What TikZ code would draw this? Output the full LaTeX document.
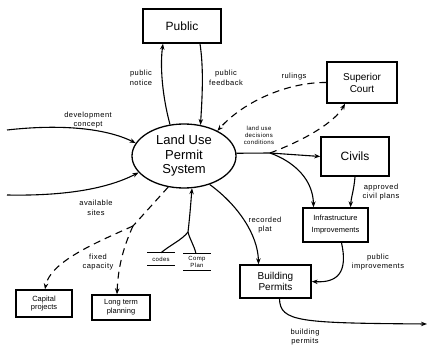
\documentclass[tikz,border=0pt]{standalone}
\usepackage{fontspec}
\setmainfont{Liberation Sans}
\newfontfamily\lblfont[LetterSpace=6]{Liberation Sans}
\usetikzlibrary{shapes.geometric,arrows.meta,calc}
\begin{document}
\begin{tikzpicture}[x=1pt,y=-1pt,
  box/.style={draw,line width=1.4pt,inner sep=1pt,align=center},
  proc/.style={draw,ellipse,line width=1.3pt,minimum width=104pt,minimum height=64pt,inner sep=0pt,align=center,font=\fontsize{13}{14.5}\selectfont},
  store/.style={inner sep=0pt,minimum width=27pt,minimum height=12pt,align=center,font=\lblfont\fontsize{6}{6.5}\selectfont},
  lbl/.style={align=center,inner sep=0pt,font=\lblfont\fontsize{7.5}{9.5}\selectfont},
  flow/.style={line width=1.1pt,-{Stealth[length=6pt,width=4.5pt]}},
  plain/.style={line width=1.1pt},
  dflow/.style={flow,dash pattern=on 7pt off 5pt},
  dplain/.style={plain,dash pattern=on 7pt off 5pt}]
\useasboundingbox (0,0) rectangle (428,350);
\fill[white] (0,0) rectangle (428,350);

% nodes
\node[proc] (LUPS) at (184,156) {Land Use\\Permit\\System};
\node[box,minimum width=78pt,minimum height=34pt,font=\fontsize{12}{13}\selectfont] (Public) at (182,26) {Public};
\node[box,minimum width=70pt,minimum height=41pt,font=\fontsize{10}{12}\selectfont] (SC) at (362,82.5) {Superior\\Court};
\node[box,minimum width=68pt,minimum height=39pt,font=\fontsize{12}{13}\selectfont] (Civils) at (355,156.5) {Civils};
\node[box,minimum width=65pt,minimum height=34pt,font=\fontsize{7.5}{12}\selectfont] (Infra) at (335.5,225) {Infrastructure\\Improvements};
\node[box,minimum width=71pt,minimum height=33pt,font=\fontsize{10}{11.5}\selectfont] (BP) at (275.5,281.5) {Building\\Permits};
\node[box,minimum width=56pt,minimum height=27pt,font=\fontsize{7.5}{8.5}\selectfont] (Cap) at (44,303.5) {Capital\\projects};
\node[box,minimum width=58pt,minimum height=25pt,font=\fontsize{7.5}{9}\selectfont] (LT) at (121,307.5) {Long term\\planning};
\node[store] (codes) at (161,259) {codes};
\node[store,minimum height=16pt] (comp) at (197,262) {Comp\\Plan};
\foreach \s in {codes,comp}{
  \draw[line width=1.1pt] (\s.north west) -- (\s.north east);
  \draw[line width=1.1pt] (\s.south west) -- (\s.south east);
}

% free ends and junctions
\coordinate (dcin) at (7,130);
\coordinate (asin) at (7,195);
\coordinate (bpout) at (427,324);
\coordinate (jdec) at (270,153);
\coordinate (jfix) at (133,226);
\coordinate (jcp) at (188,232);

% connectors
\draw[flow] (dcin) .. controls (60,124) and (105,128) .. (LUPS.165);
\draw[flow] (asin) .. controls (60,196) and (105,190) .. (LUPS.200);
\draw[flow] (LUPS.114) .. controls (162,95) and (160,65) .. ($(Public.south)+(-19,0)$);
\draw[flow] ($(Public.south)+(18,0)$) .. controls (204,70) and (202,100) .. (LUPS.62);
\draw[dflow] (SC.west) .. controls (290,82) and (245,100) .. (LUPS.37);
\draw[plain] (LUPS.3) -- (jdec);
\draw[flow] (jdec) -- (Civils.west);
\draw[dflow] (jdec) .. controls (305,140) and (335,122) .. ($(SC.south)+(-17,0)$);
\draw[flow] (jdec) .. controls (295,162) and (313,180) .. ($(Infra.north)+(-22,0)$);
\draw[flow] (Civils.south) .. controls (354,190) and (351,198) .. ($(Infra.north)+(15,0)$);
\draw[flow] (LUPS.312) .. controls (238,205) and (258,235) .. ($(BP.north)+(-17,0)$);
\draw[flow] ($(Infra.south)+(6,0)$) .. controls (348,272) and (338,283) .. (BP.east);
\draw[flow] ($(BP.south)+(4,0)$) .. controls (280,322) and (300,323) .. (bpout);
\draw[dplain] (LUPS.243) -- (jfix);
\draw[dflow] (jfix) .. controls (95,243) and (50,262) .. ($(Cap.north)+(1,0)$);
\draw[dflow] (jfix) .. controls (122,250) and (118,270) .. ($(LT.north)+(-4,0)$);
\draw[plain] (codes.north) .. controls (170,245) and (182,240) .. (jcp);
\draw[plain] ($(comp.north)+(-1,0)$) .. controls (194,245) and (190,240) .. (jcp);
\draw[flow] (jcp) .. controls (190,215) and (191,200) .. (LUPS.284);

% labels
\node[lbl] (l1) at (88,120) {development\\concept};
\node[lbl] (l2) at (96,208) {available\\sites};
\node[lbl] (l3) at (141,78) {public\\notice};
\node[lbl] (l4) at (226,78) {public\\feedback};
\node[lbl] (l5) at (294,77) {rulings};
\node[lbl,font=\lblfont\fontsize{6}{7}\selectfont] (l6) at (259,135) {land use\\decisions\\conditions};
\node[lbl] (l7) at (381,192) {approved\\civil plans};
\node[lbl] (l8) at (265,225) {recorded\\plat};
\node[lbl] (l9) at (378,262) {public\\improvements};
\node[lbl] (l10) at (305,337) {building\\permits};
\node[lbl] (l11) at (98,262) {fixed\\capacity};
\end{tikzpicture}
\end{document}
